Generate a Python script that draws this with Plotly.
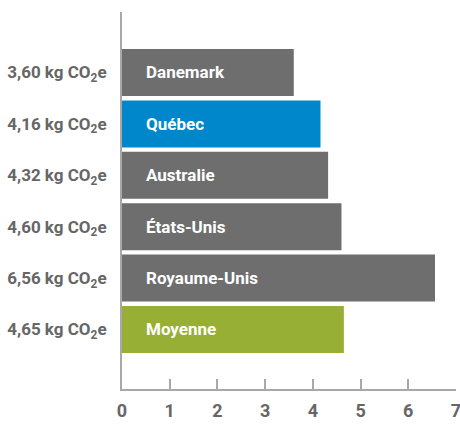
import plotly.graph_objects as go

# Emissions per country (kg CO2e)
countries = ["Danemark", "Québec", "Australie", "États-Unis", "Royaume-Unis", "Moyenne"]
values = [3.60, 4.16, 4.32, 4.60, 6.56, 4.65]
value_labels = ["3,60", "4,16", "4,32", "4,60", "6,56", "4,65"]
x_ticks = [0, 1, 2, 3, 4, 5, 6, 7]

GREY = "#6e6e6e"
BLUE = "#0087cb"
GREEN = "#98af35"
AXIS = "#a8a8a8"
TEXT = "#666666"
FONT = "Roboto, sans-serif"

colors = [BLUE if c == "Québec" else GREEN if c == "Moyenne" else GREY for c in countries]

fig = go.Figure(
    go.Bar(
        x=values,
        y=countries,
        orientation="h",
        marker=dict(color=colors, line=dict(width=0)),
        hoverinfo="skip",
    )
)

# Country names written inside each bar
for c in countries:
    fig.add_annotation(
        x=0, y=c, xref="x", yref="y",
        text=c, showarrow=False,
        xanchor="left", xshift=22,
        font=dict(family=FONT, size=17, color="white", weight="bold"),
    )

fig.update_layout(
    width=460, height=425,
    margin=dict(l=122, r=4, t=12, b=36),
    paper_bgcolor="white", plot_bgcolor="white",
    bargap=0.085,
    showlegend=False,
    font=dict(family=FONT, size=17, color=TEXT),
)

fig.update_xaxes(
    range=[0, 7.0001],
    tickvals=x_ticks,
    ticktext=[str(t) for t in x_ticks],
    showgrid=False, zeroline=False,
    showline=True, linecolor=AXIS, linewidth=2,
    ticks="inside", ticklen=10, tickwidth=1.5, tickcolor=AXIS,
    ticklabelstandoff=4,
    ticklabeloverflow="allow",
    tickfont=dict(family=FONT, size=18, color=TEXT, weight="bold"),
    automargin=False,
    fixedrange=True,
)

fig.update_yaxes(
    categoryorder="array", categoryarray=countries,
    range=[6.158, -1.177],
    tickvals=countries,
    ticktext=[f"{v} kg CO<sub>2</sub>e" for v in value_labels],
    showgrid=False, zeroline=False,
    showline=True, linecolor=AXIS, linewidth=2,
    ticks="", ticklabelstandoff=10,
    tickfont=dict(family=FONT, size=17, color=TEXT, weight="bold"),
    automargin=False,
    fixedrange=True,
)

fig.write_html("out.html", config={"displayModeBar": False})
